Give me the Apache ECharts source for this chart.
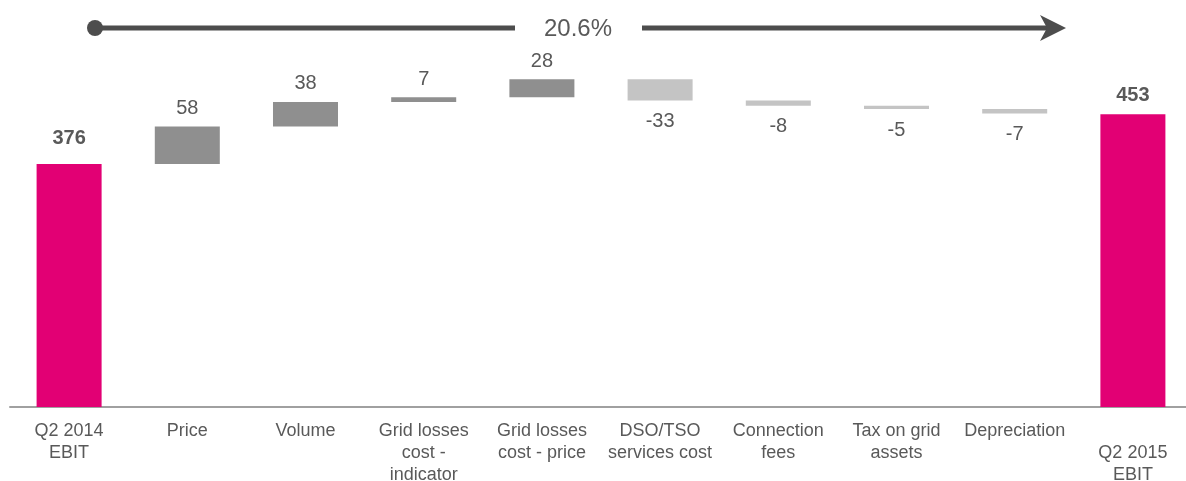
<!DOCTYPE html>
<html>
<head>
<meta charset="utf-8">
<script src="https://cdn.jsdelivr.net/npm/echarts@6/dist/echarts.min.js"></script>
<style>
  html, body { margin: 0; padding: 0; background: #fff; }
  #chart { width: 1186px; height: 481px; }
</style>
</head>
<body>
<div id="chart"></div>
<script>
// EBIT bridge Q2 2014 -> Q2 2015
const categories = [
  'Q2 2014\nEBIT', 'Price', 'Volume', 'Grid losses\ncost -\nindicator',
  'Grid losses\ncost - price', 'DSO/TSO\nservices cost', 'Connection\nfees',
  'Tax on grid\nassets', 'Depreciation', '\nQ2 2015\nEBIT'
];
const startTotal = 376;
const endTotal = 453;
const deltas = [58, 38, 7, 28, -33, -8, -5, -7];
const growthLabel = '20.6%';

const MAGENTA = '#E20074';
const UP = '#8F8F8F';
const DOWN = '#C4C4C4';
const TEXT = '#595959';
const FONT = '"Liberation Sans", Arial, sans-serif';

// Invisible base + visible segment for each step of the bridge
const baseData = [];
const barData = [];
baseData.push(0);
barData.push({
  value: startTotal,
  itemStyle: { color: MAGENTA },
  label: { position: 'top', fontWeight: 'bold', formatter: String(startTotal), distance: 15 }
});
let running = startTotal;
deltas.forEach(d => {
  const next = running + d;
  baseData.push(Math.min(running, next));
  barData.push({
    value: Math.abs(d),
    itemStyle: { color: d >= 0 ? UP : DOWN },
    label: { position: d >= 0 ? 'top' : 'bottom', formatter: String(d), distance: d >= 0 ? 8 : 11 }
  });
  running = next;
});
baseData.push(0);
barData.push({
  value: endTotal,
  itemStyle: { color: MAGENTA },
  label: { position: 'top', fontWeight: 'bold', formatter: String(endTotal), distance: 9 }
});

const chart = echarts.init(document.getElementById('chart'));
chart.setOption({
  animation: false,
  textStyle: { fontFamily: FONT },
  grid: { left: 10, width: 1182, top: 45, bottom: 74, containLabel: false, outerBoundsMode: 'none' },
  xAxis: {
    type: 'category',
    data: categories,
    axisTick: { show: false },
    axisLine: { lineStyle: { color: '#A0A0A0', width: 2 } },
    axisLabel: {
      interval: 0, color: TEXT, fontSize: 18, lineHeight: 22,
      margin: 13, fontFamily: FONT
    }
  },
  yAxis: {
    type: 'value', min: 0, max: 560, show: false,
    splitLine: { show: false }
  },
  series: [
    {
      type: 'bar', stack: 'wf', data: baseData, barWidth: '55%',
      itemStyle: { color: 'transparent' }, silent: true
    },
    {
      type: 'bar', stack: 'wf', data: barData, barWidth: '55%',
      label: { show: true, color: TEXT, fontSize: 20, fontFamily: FONT }
    }
  ],
  graphic: [
    { type: 'line', shape: { x1: 95, y1: 28, x2: 515, y2: 28 },
      style: { stroke: '#4D4D4D', lineWidth: 5 } },
    { type: 'circle', shape: { cx: 95, cy: 28, r: 8 }, style: { fill: '#4D4D4D' } },
    { type: 'line', shape: { x1: 642, y1: 28, x2: 1050, y2: 28 },
      style: { stroke: '#4D4D4D', lineWidth: 5 } },
    { type: 'polygon',
      shape: { points: [[1040, 15], [1066, 28], [1040, 41], [1047, 28]] },
      style: { fill: '#4D4D4D' } },
    { type: 'text', x: 578, y: 29,
      style: { text: growthLabel, fill: TEXT, fontSize: 24, fontFamily: FONT,
               align: 'center', verticalAlign: 'middle' } }
  ]
});
</script>
</body>
</html>
